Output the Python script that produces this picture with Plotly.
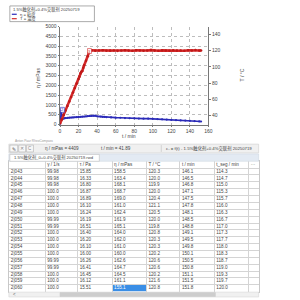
import plotly.graph_objects as go

# ---------------- data ----------------
t_T = [0, 2, 4, 6, 8, 10, 12, 14, 16, 18, 20, 21, 22, 23, 24, 25, 26, 28, 30, 31, 32,
       34, 38, 42, 46, 50, 54, 58, 62, 66, 70, 74, 78, 82, 86, 90, 94, 98, 102, 106,
       110, 114, 118, 122, 126, 130, 134, 138, 142, 146, 150, 152]
T_vals = [30, 35.5, 41, 46.5, 52, 57.5, 63, 68.5, 74, 79.5, 85, 88, 92, 94, 95, 99, 102, 107.5, 113, 117, 120,
          120.3, 119.8, 120.1, 120.4, 119.9, 120.0, 120.2, 119.7, 120.1, 120.5, 120.0, 119.8, 120.3, 120.1, 119.9,
          120.2, 120.6, 120.0, 119.8, 120.3, 120.1, 119.9, 120.4, 120.0, 120.2, 119.8, 120.3, 120.1, 120.8, 120.0, 120.2]

t_eta = [0, 0.5, 1, 1.5, 2, 2.5, 3, 4, 5, 6, 8, 10, 12, 14, 16, 18, 20, 22, 24, 26, 28, 30, 32, 34, 36, 38,
         40, 42, 44, 46, 48, 50, 55, 60, 65, 70, 75, 80, 85, 90, 95, 100, 105, 110, 115, 120, 125, 130, 135,
         140, 145, 150, 152]
eta_vals = [0, 250, 600, 720, 450, 330, 300, 310, 320, 330, 340, 350, 355, 360, 370, 375, 390, 395, 400, 410,
            420, 430, 440, 445, 455, 450, 420, 410, 400, 390, 385, 370, 360, 350, 345, 330, 320, 315, 305, 300,
            300, 290, 280, 265, 250, 235, 220, 210, 200, 190, 175, 160, 155]

col_headers = ["", "γ / 1/s", "τ / Pa", "η / mPas", "T / °C", "t / min", "t_seg / min", "···"]
row_index = ["2|043", "2|044", "2|045", "2|046", "2|047", "2|048", "2|049", "2|050", "2|051",
             "2|052", "2|053", "2|054", "2|055", "2|056", "2|057", "2|058", "2|059", "2|060"]
gamma = ["99.98", "99.98", "99.98", "100.0", "100.0", "100.0", "100.0", "99.99", "99.99",
         "100.0", "100.0", "100.0", "100.0", "99.99", "99.99", "100.0", "100.0", "100.0"]
tau = ["15.85", "16.33", "16.80", "16.87", "16.89", "16.10", "16.24", "16.19", "16.51",
       "16.40", "16.20", "16.10", "16.00", "16.26", "16.41", "16.45", "16.12", "15.51"]
eta_tab = ["158.5", "163.4", "168.1", "168.7", "169.0", "161.0", "162.4", "161.9", "165.1",
           "164.0", "162.0", "161.0", "160.0", "162.6", "164.7", "164.5", "161.1", "155.1"]
T_tab = ["120.3", "120.0", "119.9", "120.0", "120.4", "121.1", "120.5", "120.0", "119.8",
         "120.8", "120.3", "120.3", "120.2", "120.6", "120.6", "120.2", "121.6", "120.8"]
t_tab = ["146.1", "146.5", "146.8", "147.1", "147.5", "147.8", "148.1", "148.5", "148.8",
         "149.1", "149.5", "149.8", "150.1", "150.5", "150.8", "151.1", "151.5", "151.8"]
tseg_tab = ["114.3", "114.7", "115.0", "115.3", "115.7", "116.0", "116.3", "116.7", "117.0",
            "117.3", "117.7", "118.0", "118.3", "118.7", "119.0", "119.3", "119.7", "120.0"]

W = H = 300
def px(x): return x / W
def py(y): return 1 - y / H

FONT = "Liberation Sans, Noto Sans CJK SC, sans-serif"
TXT = "#444444"

fig = go.Figure()

fig.add_trace(go.Scatter(x=t_eta, y=eta_vals, mode="lines+markers", yaxis="y",
                         line=dict(color="#2a2ab8", width=1.6),
                         marker=dict(size=2.2, color="#2a2ab8"), showlegend=False))
fig.add_trace(go.Scatter(x=t_T, y=T_vals, mode="lines+markers", yaxis="y2",
                         line=dict(color="#d42a2a", width=2.6),
                         marker=dict(size=2.6, color="#c01818"), showlegend=False))

# ---------------- table drawn on its own axes ----------------
col_widths = [37, 33, 35, 35, 34, 35, 35, 10]
bounds = [0]
for w in col_widths:
    bounds.append(bounds[-1] + w)
n = len(row_index)
columns = [row_index, gamma, tau, eta_tab, T_tab, t_tab, tseg_tab, [""] * n]
rows = list(range(n))
hl_row, hl_col = n - 1, 3

for ci, col in enumerate(columns):
    colors = [("white" if (ci == hl_col and r == hl_row) else TXT) for r in rows]
    fig.add_trace(go.Scatter(x=[bounds[ci] + 2] * n, y=rows, text=col, mode="text",
                             textposition="middle right", xaxis="x3", yaxis="y3",
                             textfont=dict(size=4.6, color=colors, family=FONT),
                             showlegend=False, hoverinfo="skip", cliponaxis=False))
fig.add_trace(go.Scatter(x=[b + 2 for b in bounds[:-1]], y=[-1] * len(col_headers), text=col_headers,
                         mode="text", textposition="middle right", xaxis="x3", yaxis="y3",
                         textfont=dict(size=4.6, color=TXT, family=FONT),
                         showlegend=False, hoverinfo="skip", cliponaxis=False))

axis_common = dict(showline=True, linecolor="#777777", linewidth=0.8, ticks="outside",
                   ticklen=1.5, tickwidth=0.6, tickcolor="#777777",
                   tickfont=dict(size=5, color=TXT, family=FONT), zeroline=False)

fig.update_layout(
    width=W, height=H, margin=dict(l=0, r=0, t=0, b=0),
    paper_bgcolor="white", plot_bgcolor="white",
    font=dict(family=FONT, color=TXT),
    xaxis=dict(domain=[px(60), px(211)], range=[0, 160], dtick=20,
               showgrid=True, gridcolor="#bdbdbd", griddash="dot", gridwidth=0.6,
               anchor="y", **axis_common),
    yaxis=dict(domain=[py(124), py(24)], range=[0, 5000], dtick=500,
               showgrid=True, gridcolor="#bdbdbd", griddash="dot", gridwidth=0.6,
               anchor="x", **axis_common),
    yaxis2=dict(overlaying="y", side="right", anchor="x", range=[29.2, 149.6],
                tickvals=[40, 60, 80, 100, 120, 140], showgrid=False, **axis_common),
    xaxis3=dict(domain=[px(8), px(262)], range=[0, bounds[-1]], anchor="y3",
                tickvals=bounds, showticklabels=False, ticks="", showgrid=True,
                gridcolor="#d4d4d4", gridwidth=0.6, zeroline=False,
                showline=True, mirror=True, linecolor="#c8c8c8", linewidth=0.6),
    yaxis3=dict(domain=[py(294.5), py(161.5)], range=[n - 0.5, -1.5], anchor="x3",
                tickvals=[r - 0.5 for r in range(n + 1)], showticklabels=False, ticks="",
                showgrid=True, gridcolor="#d4d4d4", gridwidth=0.6, zeroline=False,
                showline=True, mirror=True, linecolor="#c8c8c8", linewidth=0.6),
)

shapes = []
annos = []
# highlighted (selected) cell
shapes.append(dict(type="rect", xref="x3", yref="y3", x0=bounds[hl_col], x1=bounds[hl_col + 1],
                   y0=hl_row - 0.5, y1=hl_row + 0.5, fillcolor="#3a8ee6",
                   line=dict(width=0), layer="below"))

def rect(x0, y0, x1, y1, fill, line="#c0c0c0", lw=0.6):
    shapes.append(dict(type="rect", xref="paper", yref="paper", x0=px(x0), x1=px(x1),
                       y0=py(y1), y1=py(y0), fillcolor=fill, line=dict(color=line, width=lw),
                       layer="above"))
def text(x, y, s, size=4.6, color=TXT, xanchor="left", angle=0):
    annos.append(dict(xref="paper", yref="paper", x=px(x), y=py(y), text=s, showarrow=False,
                      xanchor=xanchor, yanchor="middle", textangle=angle,
                      font=dict(size=size, color=color, family=FONT)))

# legend box
rect(9, 3, 95, 19, "white", line="#888888", lw=0.7)
text(10.5, 6.5, "1.5%触化剂+0.4%交联剂 20250719", size=4.2)
shapes.append(dict(type="line", xref="paper", yref="paper", x0=px(11), x1=px(16),
                   y0=py(11.5), y1=py(11.5), line=dict(color="#2a2ab8", width=1.2)))
shapes.append(dict(type="line", xref="paper", yref="paper", x0=px(11), x1=px(16),
                   y0=py(16), y1=py(16), line=dict(color="#d42a2a", width=1.2)))
text(17, 11.5, "η = 粘度", size=4.2)
text(17, 16, "T = 温度", size=4.2)

# axis titles
text(38, 76, "η / mPas", size=5, xanchor="center", angle=-90)
text(245, 73, "T / °C", size=5, xanchor="center", angle=-90)
text(130, 135.5, "t / min", size=5, xanchor="center")

# curve labels
rect(60.5, 106.5, 64.5, 111.5, "white", line="#2a2ab8", lw=0.6)
text(62.5, 109, "2", size=4, color="#2a2ab8", xanchor="center")
rect(88, 46.5, 92, 51.5, "white", line="#d42a2a", lw=0.6)
text(90, 49, "3", size=4, color="#d42a2a", xanchor="center")

# software tag
text(12, 141, "Anton Paar RheoCompass", size=3.2, color="#999999")

# toolbar
rect(8, 144, 262, 153, "#f0f0f0", line="#d0d0d0")
rect(9, 145, 17, 152, "#f8f8f8", line="#b0b0b0")
rect(18, 145, 25, 152, "#f8f8f8", line="#b0b0b0")
rect(26, 145, 33, 152, "#f8f8f8", line="#b0b0b0")
text(13, 148.5, "✎", size=5, color="#555555", xanchor="center")
text(21.5, 148.5, "✕", size=4.5, color="#888888", xanchor="center")
text(29.5, 148.5, "C", size=4.5, color="#888888", xanchor="center")
shapes.append(dict(type="line", xref="paper", yref="paper", x0=px(163), x1=px(163),
                   y0=py(152), y1=py(145), line=dict(color="#c0c0c0", width=0.6)))
text(43, 148.5, "η / mPas = 4409", size=4.6)
text(100, 148.5, "t / min = 41.89", size=4.6)
text(166, 148.5, "c₁ = f(t) - 1.5%触化剂+0.4%交联剂 20250719", size=4.3)

# tab row
rect(8, 154, 262, 161.5, "#e3eaf3", line="#d0d8e2")
rect(9, 154.5, 100, 161.5, "white", line="#c0c0c0")
text(11, 158, "1.5%触化剂_0+0.4%交联剂 20250719.rwd", size=4.2)

# scrollbar
rect(8, 295, 262, 300, "#f0f0f0", line="#d8d8d8")
rect(60, 295.5, 218, 299.5, "#cdcdcd", line="#cdcdcd")
text(10, 297.5, "<", size=4.5, color="#666666")

fig.update_layout(shapes=shapes, annotations=annos)
fig.write_html("out.html")
